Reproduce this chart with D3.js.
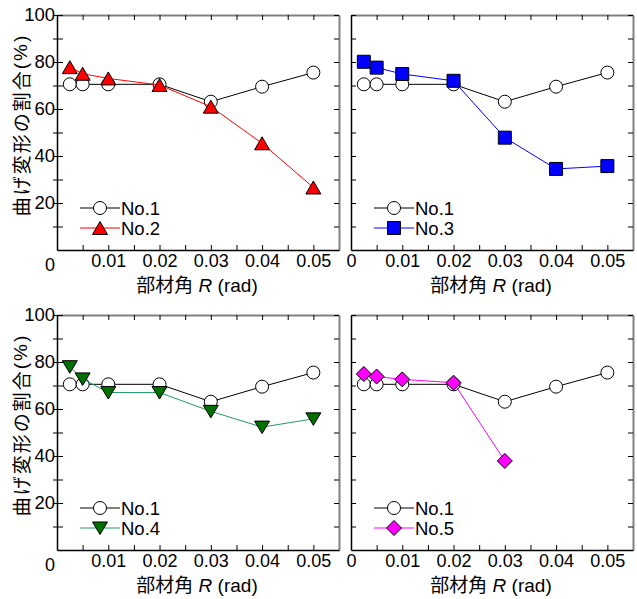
<!DOCTYPE html>
<html>
<head>
<meta charset="utf-8">
<script src="https://cdn.jsdelivr.net/npm/d3@7"></script>
<style>
  body { margin: 0; background: #fff; }
  svg text { font-family: "Liberation Sans", Arial, sans-serif; fill: #000; }
  .jp { font-family: "Noto Sans CJK JP", "Liberation Sans", sans-serif; }
</style>
</head>
<body>
<svg id="chart" width="637" height="599"></svg>
<script>
// member rotation angle R (rad)
var rad = [0.0025, 0.005, 0.01, 0.02, 0.03, 0.04, 0.05];

// bending deformation ratio (%)
var no1 = [70.5, 70.5, 70.5, 70.5, 63.1, 69.5, 75.5];
var no2 = [77.8, 75.0, 73.0, 70.2, 61.0, 45.4, 26.6];
var no3 = [80.1, 77.6, 74.9, 72.0, 47.8, 34.5, 35.7];
var no4 = [78.0, 72.8, 67.0, 67.0, 59.0, 52.3, 55.8];
var no5 = [74.9, 73.8, 72.6, 71.2, 37.9];

var xTicks = [0.005, 0.01, 0.015, 0.02, 0.025, 0.03, 0.035, 0.04, 0.045, 0.05];
var xLabels = [0.01, 0.02, 0.03, 0.04, 0.05];
var yTicks = [10, 20, 30, 40, 50, 60, 70, 80, 90, 100];
var yLabels = [20, 40, 60, 80, 100];

var panels = [
  {left: 57, right: 339, top: 15, name: 'No.2', values: no2, shape: 'up', fill: '#ff0000', line: '#ff0000', yLab: true},
  {left: 351, right: 633, top: 15, name: 'No.3', values: no3, shape: 'square', fill: '#0000ff', line: '#0000ff', yLab: false},
  {left: 57, right: 339, top: 315, name: 'No.4', values: no4, shape: 'down', fill: '#007000', line: '#229966', yLab: true},
  {left: 351, right: 633, top: 315, name: 'No.5', values: no5, shape: 'diamond', fill: '#ff00ff', line: '#ff00ff', yLab: false}
];
var plotH = 235;

// marker paths, centered on bounding box
function markerPath(shape) {
  if (shape === 'up') return 'M0,-6.5L7.5,6.5L-7.5,6.5Z';
  if (shape === 'down') return 'M-7.5,-6L7.5,-6L0,6.5Z';
  if (shape === 'square') return 'M-6.5,-6.5H6.5V6.5H-6.5Z';
  if (shape === 'diamond') return 'M0,-7.5L7.5,0L0,7.5L-7.5,0Z';
  return d3.symbol(d3.symbolCircle, 140)();
}

var svg = d3.select('#chart');

panels.forEach(function(p) {
  var x = d3.scaleLinear().domain([0, 0.055]).range([p.left, p.right]);
  var y = d3.scaleLinear().domain([0, 100]).range([p.top + plotH, p.top]);
  var g = svg.append('g');

  // top and right frame (grey, mirrored ticks)
  var topAxis = g.append('g')
    .attr('transform', `translate(0,${p.top})`)
    .call(d3.axisTop(x).tickValues(xTicks).tickSizeInner(-5).tickSizeOuter(0).tickFormat(''));
  var rightAxis = g.append('g')
    .attr('transform', `translate(${p.right},0)`)
    .call(d3.axisRight(y).tickValues(yTicks).tickSizeInner(-5).tickSizeOuter(0).tickFormat(''));
  [topAxis, rightAxis].forEach(function(a) {
    a.select('.domain').attr('stroke', '#808080').attr('stroke-width', 2);
    a.selectAll('.tick line').attr('stroke', '#000');
  });

  // bottom axis
  var xAxisG = g.append('g')
    .attr('transform', `translate(0,${p.top + plotH})`)
    .call(d3.axisBottom(x)
      .tickValues(p.yLab ? xTicks : [0].concat(xTicks))
      .tickSizeInner(-5).tickSizeOuter(0).tickPadding(4)
      .tickFormat(function(d) {
        if (d === 0) return '0';
        return xLabels.some(function(v) { return Math.abs(v - d) < 1e-9; }) ? d3.format('.2f')(d) : '';
      }));
  xAxisG.select('.domain').attr('stroke-width', 1.5);
  xAxisG.selectAll('text').style('font-size', '18px').attr('font-family', null);

  // left axis
  var yAxisG = g.append('g')
    .attr('transform', `translate(${p.left},0)`)
    .call(d3.axisLeft(y).tickValues(yTicks)
      .tickSizeInner(p.yLab ? 4 : -5).tickSizeOuter(0).tickPadding(0)
      .tickFormat(function(d) { return p.yLab && yLabels.indexOf(d) >= 0 ? d : ''; }));
  yAxisG.select('.domain').attr('stroke-width', 1.5);
  if (p.yLab) yAxisG.selectAll('.tick line').attr('x1', 6);
  yAxisG.selectAll('text').style('font-size', '18.5px').attr('x', -2).attr('font-family', null);

  // origin label on left panels
  if (p.yLab) {
    g.append('text')
      .attr('x', p.left - 7).attr('y', p.top + plotH + 21)
      .attr('text-anchor', 'middle')
      .style('font-size', '18px')
      .text('0');
  }

  // axis titles
  var xt = g.append('text')
    .attr('x', (p.left + p.right) / 2 - 1).attr('y', p.top + plotH + 42)
    .attr('text-anchor', 'middle')
    .style('font-size', '19px');
  xt.append('tspan').attr('class', 'jp').text('部材角');
  xt.append('tspan').text(' ');
  xt.append('tspan').style('font-style', 'italic').text('R');
  xt.append('tspan').text(' (rad)');

  if (p.yLab) {
    var yt = g.append('text')
      .attr('transform', `translate(20,${p.top + 110})rotate(-90)`)
      .attr('text-anchor', 'middle')
      .attr('dominant-baseline', 'central')
      .style('font-size', '19px')
      .style('letter-spacing', '2px');
    yt.append('tspan').attr('class', 'jp').text('曲げ変形の割合');
    yt.append('tspan').text('(%)');
  }

  var line = d3.line().x(function(d) { return x(d[0]); }).y(function(d) { return y(d[1]); });

  // reference series No.1
  var ref = rad.map(function(r, i) { return [r, no1[i]]; });
  g.append('path').datum(ref).attr('d', line)
    .attr('fill', 'none').attr('stroke', '#000').attr('stroke-width', 1);
  g.selectAll('.ref').data(ref).join('circle')
    .attr('class', 'ref')
    .attr('cx', function(d) { return x(d[0]); })
    .attr('cy', function(d) { return y(d[1]); })
    .attr('r', 6.5)
    .attr('fill', '#fff').attr('stroke', '#000').attr('stroke-width', 1);

  // compared specimen
  var ser = p.values.map(function(v, i) { return [rad[i], v]; });
  g.append('path').datum(ser).attr('d', line)
    .attr('fill', 'none').attr('stroke', p.line).attr('stroke-width', 1);
  g.selectAll('.mk').data(ser).join('path')
    .attr('class', 'mk')
    .attr('transform', function(d) { return `translate(${x(d[0])},${y(d[1])})`; })
    .attr('d', markerPath(p.shape))
    .attr('fill', p.fill).attr('stroke', '#000').attr('stroke-width', 1);

  // legend
  var lx = p.left + 23, ly = p.top + 193;
  var leg = [
    {name: 'No.1', color: '#000', shape: 'circle', fill: '#fff'},
    {name: p.name, color: p.line, shape: p.shape, fill: p.fill}
  ];
  leg.forEach(function(l, i) {
    var yy = ly + i * 20;
    g.append('line').attr('x1', lx).attr('x2', lx + 40).attr('y1', yy).attr('y2', yy)
      .attr('stroke', l.color).attr('stroke-width', 1);
    if (l.shape === 'circle') {
      g.append('circle').attr('cx', lx + 20).attr('cy', yy).attr('r', 6.5)
        .attr('fill', '#fff').attr('stroke', '#000');
    } else {
      g.append('path').attr('transform', `translate(${lx + 20},${yy})`)
        .attr('d', markerPath(l.shape)).attr('fill', l.fill).attr('stroke', '#000');
    }
    g.append('text').attr('x', lx + 41).attr('y', yy)
      .attr('dominant-baseline', 'central')
      .style('font-size', '18.5px')
      .text(l.name);
  });
});
</script>
</body>
</html>
